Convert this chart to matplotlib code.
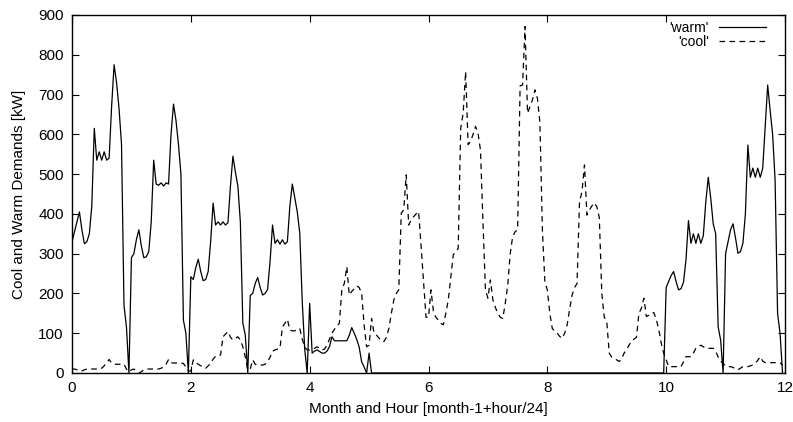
import matplotlib
matplotlib.use("Agg")
import matplotlib.pyplot as plt
import numpy as np

plt.rcParams['font.family'] = ['Liberation Sans', 'DejaVu Sans']

# hourly values (hour 0..23) for each month, kW
warm_jan = [330, 355, 380, 405, 360, 325, 330, 350, 420, 615, 535, 556, 535, 556, 535, 540, 670, 775, 730, 665, 575, 170, 115, 0]
warm_feb = [290, 300, 335, 360, 320, 290, 292, 305, 380, 535, 475, 472, 478, 470, 478, 475, 600, 676, 635, 575, 500, 133, 100, 0]
warm_mar = [242, 235, 265, 286, 255, 232, 235, 255, 330, 427, 372, 380, 372, 380, 372, 378, 470, 545, 505, 470, 380, 126, 95, 0]
warm_apr = [195, 200, 225, 240, 215, 196, 200, 210, 280, 372, 326, 335, 324, 335, 324, 330, 420, 475, 440, 405, 352, 180, 60, 0]
warm_may = [175, 50, 55, 58, 54, 50, 50, 55, 66, 91, 81, 81, 81, 81, 81, 81, 95, 114, 100, 85, 65, 28, 15, 0]
warm_jun = [50, 0, 0, 0, 0, 0, 0, 0, 0, 0, 0, 0, 0, 0, 0, 0, 0, 0, 0, 0, 0, 0, 0, 0]
warm_jul = [0, 0, 0, 0, 0, 0, 0, 0, 0, 0, 0, 0, 0, 0, 0, 0, 0, 0, 0, 0, 0, 0, 0, 0]
warm_aug = [0, 0, 0, 0, 0, 0, 0, 0, 0, 0, 0, 0, 0, 0, 0, 0, 0, 0, 0, 0, 0, 0, 0, 0]
warm_sep = [0, 0, 0, 0, 0, 0, 0, 0, 0, 0, 0, 0, 0, 0, 0, 0, 0, 0, 0, 0, 0, 0, 0, 0]
warm_oct = [0, 0, 0, 0, 0, 0, 0, 0, 0, 0, 0, 0, 0, 0, 0, 0, 0, 0, 0, 0, 0, 0, 0, 0]
warm_nov = [215, 230, 245, 255, 230, 209, 212, 228, 284, 383, 326, 350, 326, 350, 326, 345, 430, 492, 440, 375, 350, 116, 83, 0]
warm_dec = [300, 330, 360, 375, 340, 301, 305, 326, 400, 573, 492, 515, 492, 515, 492, 515, 620, 724, 660, 600, 485, 150, 100, 0]

cool_jan = [10, 10, 8, 5, 5, 8, 10, 10, 10, 10, 10, 10, 12, 18, 26, 34, 25, 22, 22, 22, 22, 22, 10, 3]
cool_feb = [8, 10, 5, 0, 3, 8, 10, 10, 10, 10, 10, 10, 12, 16, 22, 34, 26, 25, 25, 25, 25, 24, 15, 5]
cool_mar = [5, 33, 26, 22, 18, 16, 12, 18, 24, 35, 42, 45, 45, 91, 98, 104, 90, 83, 87, 91, 83, 66, 40, 8]
cool_apr = [10, 33, 22, 20, 20, 20, 22, 28, 40, 55, 58, 60, 62, 116, 125, 135, 108, 106, 106, 110, 112, 85, 65, 58]
cool_may = [58, 60, 62, 66, 62, 58, 60, 70, 85, 100, 110, 118, 125, 210, 225, 267, 196, 205, 212, 219, 215, 200, 120, 66]
cool_jun = [70, 137, 100, 95, 88, 80, 79, 90, 112, 150, 184, 200, 209, 402, 410, 498, 372, 385, 393, 400, 406, 320, 230, 140]
cool_jul = [140, 209, 154, 140, 133, 125, 121, 150, 184, 240, 297, 305, 313, 615, 653, 758, 574, 582, 600, 620, 603, 560, 380, 209]
cool_aug = [188, 234, 184, 165, 150, 140, 137, 175, 220, 300, 343, 355, 360, 722, 724, 871, 653, 670, 687, 712, 690, 630, 360, 230]
cool_sep = [209, 150, 112, 105, 100, 92, 87, 100, 121, 160, 196, 215, 225, 431, 456, 523, 397, 410, 420, 428, 418, 390, 200, 140]
cool_oct = [130, 50, 40, 37, 33, 29, 35, 50, 58, 70, 80, 85, 90, 150, 163, 188, 142, 145, 150, 152, 135, 110, 75, 50]
cool_nov = [33, 16, 16, 16, 16, 16, 16, 28, 41, 41, 41, 50, 62, 66, 70, 66, 62, 62, 62, 62, 55, 40, 30, 24]
cool_dec = [18, 16, 16, 14, 10, 8, 12, 16, 16, 16, 18, 20, 24, 32, 41, 30, 26, 26, 26, 26, 26, 26, 26, 20]

warm_months = [warm_jan, warm_feb, warm_mar, warm_apr, warm_may, warm_jun,
               warm_jul, warm_aug, warm_sep, warm_oct, warm_nov, warm_dec]
cool_months = [cool_jan, cool_feb, cool_mar, cool_apr, cool_may, cool_jun,
               cool_jul, cool_aug, cool_sep, cool_oct, cool_nov, cool_dec]

x = np.array([m + h / 24.0 for m in range(12) for h in range(24)])
warm = np.concatenate([np.array(v, float) for v in warm_months])
cool = np.concatenate([np.array(v, float) for v in cool_months])

x_ticks = [0, 2, 4, 6, 8, 10, 12]
y_ticks = [0, 100, 200, 300, 400, 500, 600, 700, 800, 900]

fig = plt.figure(figsize=(7.93, 4.22), dpi=100)
ax = fig.add_axes([72 / 793, (422 - 373) / 422, (785 - 72) / 793, (373 - 15) / 422])

ax.plot(x, warm, color='black', lw=0.9, label="'warm'")
ax.plot(x, cool, color='black', lw=0.9, linestyle=(0, (4.5, 3.5)), label="'cool'")

ax.set_xlim(0, 12)
ax.set_ylim(0, 900)
ax.set_xticks(x_ticks)
ax.set_yticks(y_ticks)
ax.tick_params(direction='in', length=5, width=0.8, top=True, right=True,
               labelsize=11, pad=6, colors='black')
for s in ax.spines.values():
    s.set_linewidth(1.0)
    s.set_color('black')

ax.set_xlabel('Month and Hour [month-1+hour/24]', fontsize=11, labelpad=5)
ax.set_ylabel('Cool and Warm Demands [kW]', fontsize=11, labelpad=9)

leg = ax.legend(loc='upper right', bbox_to_anchor=((766 - 72) / 713, (373 - 21) / 358),
                frameon=False, markerfirst=False, fontsize=10, handlelength=3.4,
                handletextpad=0.7, labelspacing=0.0, borderpad=0, borderaxespad=0)

fig.savefig('out.png', dpi=100)
